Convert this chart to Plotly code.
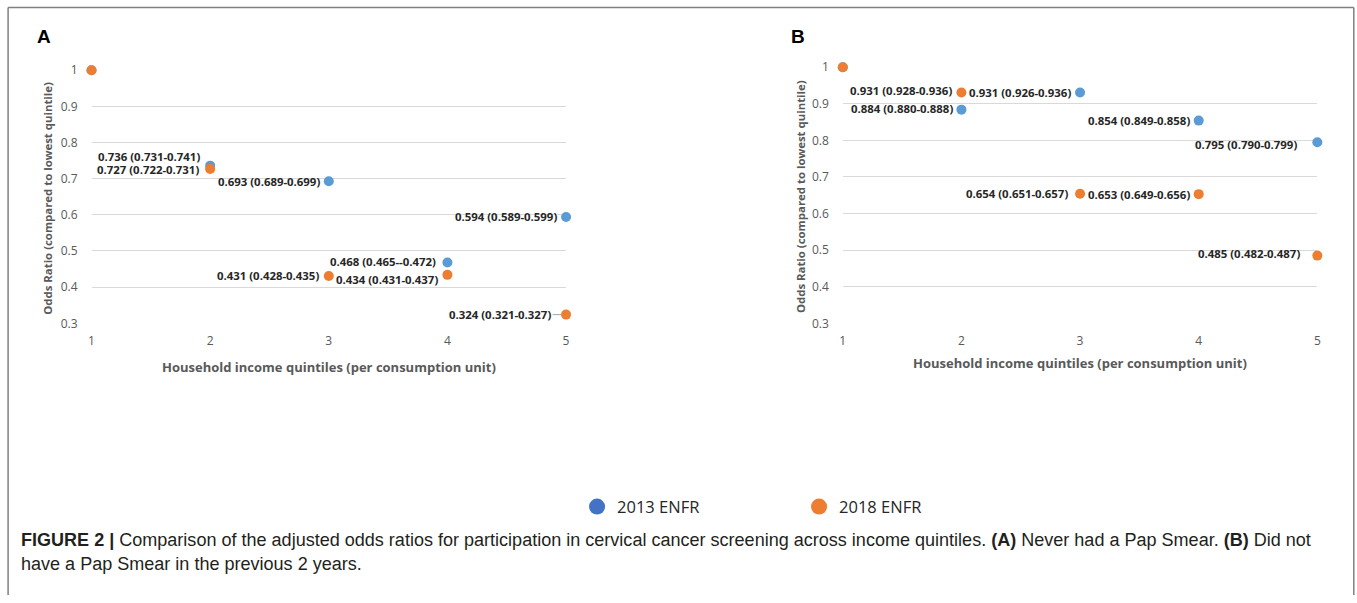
import plotly.graph_objects as go

# ---------------- data ----------------
quintiles = [1, 2, 3, 4, 5]
tick_labels_y = ["0.3", "0.4", "0.5", "0.6", "0.7", "0.8", "0.9", "1"]
tick_vals_y = [0.3, 0.4, 0.5, 0.6, 0.7, 0.8, 0.9, 1.0]

# Panel A: Never had a Pap smear
a_2013 = [1.0, 0.736, 0.693, 0.468, 0.594]
a_2013_labels = ["", "0.736 (0.731-0.741)", "0.693 (0.689-0.699)", "0.468 (0.465--0.472)", "0.594 (0.589-0.599)"]
a_2018 = [1.0, 0.727, 0.431, 0.434, 0.324]
a_2018_labels = ["", "0.727 (0.722-0.731)", "0.431 (0.428-0.435)", "0.434 (0.431-0.437)", "0.324 (0.321-0.327)"]

# Panel B: No Pap smear in the previous 2 years
b_2013 = [1.0, 0.884, 0.931, 0.854, 0.795]
b_2013_labels = ["", "0.884 (0.880-0.888)", "0.931 (0.926-0.936)", "0.854 (0.849-0.858)", "0.795 (0.790-0.799)"]
b_2018 = [1.0, 0.931, 0.654, 0.653, 0.485]
b_2018_labels = ["", "0.931 (0.928-0.936)", "0.654 (0.651-0.657)", "0.653 (0.649-0.656)", "0.485 (0.482-0.487)"]

series_names = ["2013 ENFR", "2018 ENFR"]
x_title = "Household income quintiles (per consumption unit)"
y_title = "Odds Ratio (compared to lowest quintile)"
caption_1 = ("<b>FIGURE 2 |</b> Comparison of the adjusted odds ratios for participation in cervical cancer "
             "screening across income quintiles. <b>(A)</b> Never had a Pap Smear. <b>(B)</b> Did not")
caption_2 = "have a Pap Smear in the previous 2 years."

# ---------------- styles ----------------
W, H = 1357, 603
BLUE = "#5B9BD5"
ORANGE = "#ED7D31"
BLUE_LEG = "#4472C4"
FONT = "Open Sans, Noto Sans, sans-serif"
LABEL_FONT = dict(family=FONT, size=11.4, color="#262626")


def px(xp):
    # screen x (px) -> paper fraction
    return ((xp - 2.4) / 0.9958) / W


def py(yp):
    # screen y (px from top) -> paper fraction
    return 1 - ((yp - 9.1) / 0.970) / H


fig = go.Figure()

# data traces
for xa, ya, vals, col in [("x", "y", a_2013, BLUE), ("x", "y", a_2018, ORANGE),
                          ("x2", "y2", b_2013, BLUE), ("x2", "y2", b_2018, ORANGE)]:
    fig.add_trace(go.Scatter(x=quintiles, y=vals, mode="markers", xaxis=xa, yaxis=ya,
                             marker=dict(size=10, color=col), showlegend=False,
                             cliponaxis=False, hoverinfo="x+y"))

# legend-only traces
for name, col in zip(series_names, [BLUE_LEG, ORANGE]):
    fig.add_trace(go.Scatter(x=[None], y=[None], mode="markers", name=name,
                             marker=dict(size=16, color=col), xaxis="x", yaxis="y"))

# label offsets (xshift, yshift) in px per point
a13_off = [None, (-8, 9), (-7, 0), (-9, 1), (-7, 0)]
a18_off = [None, (-9, -1), (-8, 0), (-7, -5), None]
b13_off = [None, (-6, 1), (-7, 0), (-7, 0), (-18, -2)]
b18_off = [None, (-7, 2), (-10, 0), (-7, 0), (-15, 2)]

annotations = []
for xr, yr, vals, labels, offs in [("x", "y", a_2013, a_2013_labels, a13_off),
                                   ("x", "y", a_2018, a_2018_labels, a18_off),
                                   ("x2", "y2", b_2013, b_2013_labels, b13_off),
                                   ("x2", "y2", b_2018, b_2018_labels, b18_off)]:
    for q, v, lab, off in zip(quintiles, vals, labels, offs):
        if not lab:
            continue
        if off is None:
            # label with leader line
            annotations.append(dict(x=q, y=v, xref=xr, yref=yr, text="<b>%s</b>" % lab,
                                    showarrow=True, arrowhead=0, arrowwidth=1, arrowcolor="#A6A6A6",
                                    ax=-66, ay=0, standoff=5, font=LABEL_FONT))
        else:
            annotations.append(dict(x=q, y=v, xref=xr, yref=yr, text="<b>%s</b>" % lab,
                                    showarrow=False, xanchor="right", yanchor="middle",
                                    xshift=off[0], yshift=off[1], font=LABEL_FONT))

# panel letters
for lx, txt in [(34, "A"), (789, "B")]:
    annotations.append(dict(x=px(lx), y=py(37), xref="paper", yref="paper", text="<b>%s</b>" % txt,
                            showarrow=False, xanchor="left", yanchor="middle",
                            font=dict(family="Liberation Sans, Arial", size=19, color="#000000")))

# axis titles
for cx, cy in [(329, 366), (1080, 362)]:
    annotations.append(dict(x=px(cx), y=py(cy), xref="paper", yref="paper", text="<b>%s</b>" % x_title,
                            showarrow=False, xanchor="center", yanchor="middle",
                            font=dict(family=FONT, size=13, color="#595959")))
for cx, cy in [(47, 198), (800, 196)]:
    annotations.append(dict(x=px(cx), y=py(cy), xref="paper", yref="paper", text="<b>%s</b>" % y_title,
                            showarrow=False, xanchor="center", yanchor="middle", textangle=-90,
                            font=dict(family=FONT, size=11.4, color="#595959")))

# caption
cap_font = dict(family="Liberation Sans, Arial", size=18.05, color="#231F20")
annotations.append(dict(x=px(18), y=py(539), xref="paper", yref="paper", text=caption_1,
                        showarrow=False, xanchor="left", yanchor="middle", font=cap_font))
annotations.append(dict(x=px(18), y=py(563), xref="paper", yref="paper", text=caption_2,
                        showarrow=False, xanchor="left", yanchor="middle", font=cap_font))

# border frame (left, top, right)
line_style = dict(color="#7F7F7F", width=1.5)
shapes = [
    dict(type="line", xref="paper", yref="paper", x0=px(7.5), x1=px(7.5), y0=0, y1=py(7.5), line=line_style),
    dict(type="line", xref="paper", yref="paper", x0=px(7.5), x1=px(1354.5), y0=py(7.5), y1=py(7.5), line=line_style),
    dict(type="line", xref="paper", yref="paper", x0=px(1354.5), x1=px(1354.5), y0=0, y1=py(7.5), line=line_style),
]

tick_font = dict(family=FONT, size=12, color="#595959")
xaxis_common = dict(range=[1, 5], tickvals=quintiles, showgrid=False, zeroline=False, showline=False,
                    ticks="", tickfont=tick_font, ticklabelstandoff=9, fixedrange=True)
yaxis_common = dict(range=[0.2995, 1.0005], tickvals=tick_vals_y, ticktext=tick_labels_y, showgrid=True,
                    gridcolor="#D9D9D9", gridwidth=1, zeroline=False, showline=False, ticks="",
                    tickfont=tick_font, ticklabelstandoff=13, fixedrange=True)

fig.update_layout(
    width=W, height=H, margin=dict(l=0, r=0, t=0, b=0),
    paper_bgcolor="white", plot_bgcolor="white",
    xaxis=dict(domain=[px(91), px(566)], anchor="y", **xaxis_common),
    yaxis=dict(domain=[py(323), py(70)], anchor="x", **yaxis_common),
    xaxis2=dict(domain=[px(843), px(1318)], anchor="y2", **xaxis_common),
    yaxis2=dict(domain=[py(323), py(67)], anchor="x2", **yaxis_common),
    annotations=annotations, shapes=shapes,
    showlegend=True,
    legend=dict(orientation="h", x=px(577), y=py(506), xanchor="left", yanchor="middle",
                entrywidth=177, font=dict(family=FONT, size=16.5, color="#262626"),
                bgcolor="rgba(0,0,0,0)", itemclick=False, itemdoubleclick=False),
)

post = ("document.documentElement.style.margin='0';document.documentElement.style.padding='0';"
        "document.body.style.margin='0';document.body.style.padding='0';"
        "document.documentElement.style.overflow='hidden';document.body.style.overflow='hidden';")

fig.write_html("out.html", config={"displayModeBar": False}, post_script=post)
